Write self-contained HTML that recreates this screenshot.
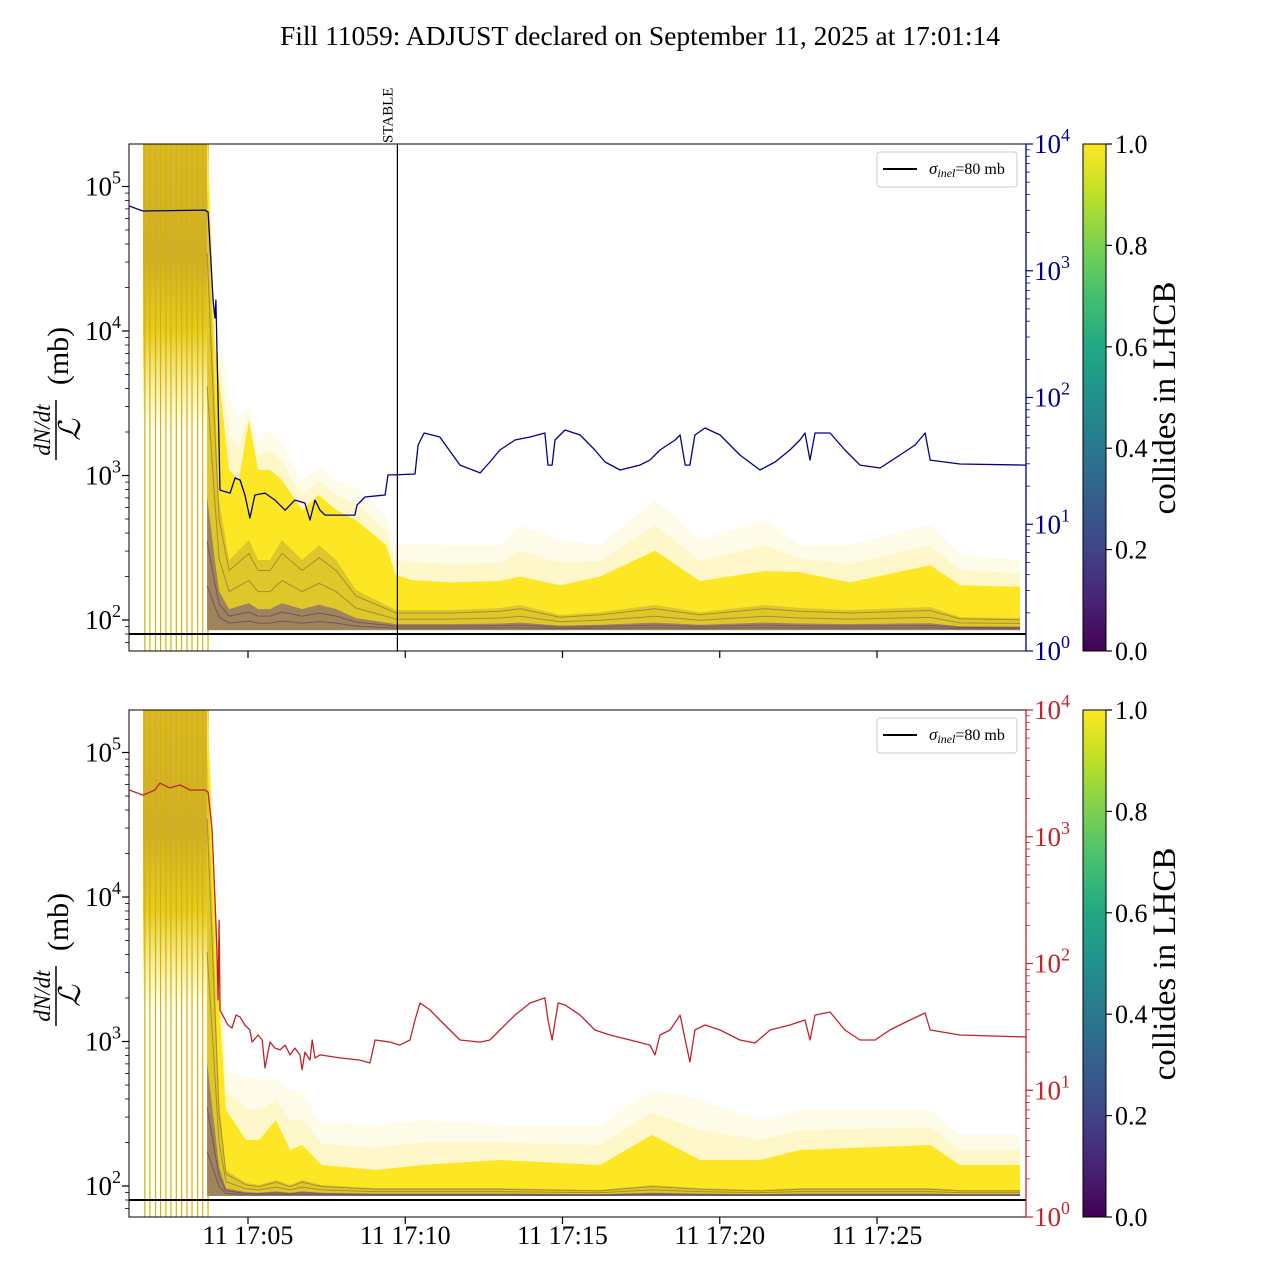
<!DOCTYPE html>
<html><head><meta charset="utf-8">
<style>
html,body{margin:0;padding:0;background:#fff;}
svg{display:block;font-family:"Liberation Serif",serif;}
</style></head>
<body>
<svg id="fig" width="1280" height="1280" viewBox="0 0 1280 1280" xmlns="http://www.w3.org/2000/svg">
<defs>
<linearGradient id="viridis" x1="0" y1="1" x2="0" y2="0">
<stop offset="0" stop-color="#440154"/><stop offset="0.1" stop-color="#482475"/><stop offset="0.2" stop-color="#414487"/><stop offset="0.3" stop-color="#355f8d"/><stop offset="0.4" stop-color="#2a788e"/><stop offset="0.5" stop-color="#21918c"/><stop offset="0.6" stop-color="#22a884"/><stop offset="0.7" stop-color="#44bf70"/><stop offset="0.8" stop-color="#7ad151"/><stop offset="0.9" stop-color="#bddf26"/><stop offset="1" stop-color="#fde725"/>
</linearGradient>
<clipPath id="clipTop"><rect x="129" y="144" width="897" height="507"/></clipPath>
<clipPath id="clipBot"><rect x="129" y="710" width="897" height="507"/></clipPath>
</defs>
<text x="640" y="45" font-size="27.5" text-anchor="middle">Fill 11059: ADJUST declared on September 11, 2025 at 17:01:14</text>
<g id="root"></g>
</svg>
<script>
// ---------- data ----------
// time in minutes after 17:00
const xTickMinutes = [5, 10, 15, 20, 25];
const xTickLabels = ["11 17:05", "11 17:10", "11 17:15", "11 17:20", "11 17:25"];
const leftTickExps = [2, 3, 4, 5];
const rightTickExps = [0, 1, 2, 3, 4];
const cbarTicks = [0.0, 0.2, 0.4, 0.6, 0.8, 1.0];
const sigmaInel = 80;
const stableTime = 9.75;
const earlyStart = 1.66, earlyEnd = 3.70;
const bunchLineTimes = [1.72, 1.88, 2.06, 2.22, 2.39, 2.55, 2.72, 2.89, 3.06, 3.22, 3.40, 3.56, 3.73];

const blueT = [1.22,1.66,3.63,3.73,3.89,3.95,3.98,4.11,4.43,4.59,4.75,4.90,5.06,5.22,5.54,5.86,6.18,6.49,6.81,6.97,7.13,7.29,7.45,8.40,8.47,8.72,9.36,9.45,9.67,10.31,10.41,10.60,11.10,11.74,12.38,12.69,13.01,13.49,13.97,14.44,14.54,14.67,14.76,15.08,15.56,16.03,16.35,16.83,17.46,17.78,18.10,18.58,18.74,18.90,19.05,19.21,19.53,20.01,20.64,21.28,21.76,22.23,22.55,22.71,22.87,23.03,23.51,23.98,24.46,25.10,25.73,26.21,26.53,26.69,27.64,29.74];
const blueV = [3240,2960,3010,2900,588,424,588,18.6,17.6,23.2,22.3,17.0,11.2,17.0,17.6,15.5,12.9,15.5,14.7,10.8,15.5,12.9,11.8,11.8,14.2,16.4,17.0,24.5,24.5,24.9,42.2,52.5,48.8,29.3,25.4,31.0,38.5,46.2,48.8,52.5,29.3,29.3,46.2,55.4,50.6,38.5,31.0,26.8,29.3,32.1,38.5,46.2,50.6,29.3,29.3,50.6,57.5,50.6,35.2,26.8,31.0,38.5,46.2,52.5,32.1,52.5,52.5,38.5,29.3,27.8,35.2,42.2,52.5,32.1,29.9,29.3];

const redT = [1.22,1.66,2.04,2.20,2.51,2.84,3.16,3.63,3.73,3.86,3.95,4.01,4.05,4.08,4.11,4.36,4.49,4.62,4.75,4.90,5.06,5.13,5.32,5.45,5.54,5.70,5.86,6.02,6.18,6.34,6.49,6.65,6.72,6.81,6.97,7.04,7.13,7.29,7.93,8.56,8.88,9.04,9.52,9.83,10.15,10.31,10.47,10.79,11.10,11.74,12.38,12.69,13.01,13.49,13.97,14.44,14.54,14.67,14.86,15.08,15.56,16.03,16.51,17.15,17.78,17.94,18.10,18.42,18.74,18.90,19.05,19.21,19.53,20.01,20.64,21.12,21.60,22.23,22.71,22.87,23.03,23.51,23.98,24.46,24.94,25.41,26.05,26.53,26.69,27.64,29.74];
const redV = [2340,2130,2340,2650,2430,2560,2340,2340,2250,1130,317,128,51.5,220,43.0,32.7,31.0,39.2,37.8,32.7,29.9,24.0,27.3,24.9,15.0,24.0,21.5,20.8,22.7,19.0,21.5,19.0,14.5,20.0,17.3,24.9,18.0,19.0,18.0,17.3,16.4,24.9,24.0,22.7,24.9,35.8,48.8,43.0,35.8,24.9,24.0,24.9,29.9,39.2,48.8,53.5,35.8,24.9,48.8,47.1,39.2,29.9,27.3,24.9,22.7,19.0,27.3,29.9,39.2,24.9,16.7,29.9,32.7,29.9,24.9,23.6,29.9,32.7,35.8,24.9,39.2,41.4,29.9,24.9,24.9,29.9,35.8,40.7,29.9,27.3,26.3];

// bunch envelopes, log10 of dN/dt/L in mb
const topBandT = [3.70,3.95,4.08,4.40,4.71,5.03,5.32,5.70,6.08,6.72,7.26,7.80,8.43,9.39,9.70,10.21,11.42,13.01,13.65,14.92,16.19,17.94,19.37,21.44,22.55,24.14,26.69,27.64,29.55];
const topOuterLog = [5.4,4.007,3.958,3.543,3.405,3.474,3.246,3.315,3.218,2.962,3.066,2.962,2.920,2.713,2.526,2.526,2.519,2.519,2.657,2.554,2.519,2.830,2.554,2.692,2.519,2.519,2.657,2.450,2.415];
const topCoreLog = [5.4,3.903,3.661,3.038,2.969,3.384,3.038,3.038,2.969,2.761,2.865,2.761,2.692,2.519,2.311,2.277,2.260,2.270,2.300,2.240,2.300,2.480,2.270,2.340,2.330,2.260,2.380,2.240,2.230];
const topDarkLog = [5.0,3.522,2.830,2.415,2.484,2.554,2.415,2.415,2.554,2.415,2.519,2.415,2.208,2.104,2.069,2.069,2.069,2.083,2.104,2.035,2.055,2.104,2.055,2.104,2.083,2.069,2.090,2.021,2.014];
const topFloorLog = 1.93;

const botBandT = [3.70,3.95,4.08,4.30,4.94,5.35,5.89,6.34,6.72,7.35,9.07,10.53,13.01,16.19,17.85,19.37,21.28,22.55,26.69,27.64,29.55];
const botOuterLog = [5.4,4.118,3.979,2.803,2.754,2.734,2.734,2.664,2.644,2.436,2.422,2.457,2.422,2.422,2.664,2.595,2.457,2.526,2.526,2.353,2.353];
const botCoreLog = [5.4,3.979,3.287,2.526,2.318,2.318,2.457,2.249,2.284,2.145,2.111,2.145,2.180,2.145,2.353,2.180,2.180,2.249,2.284,2.145,2.145];
const botDarkLog = [5.0,3.426,2.595,2.111,2.021,2.007,2.042,2.007,2.042,2.007,1.986,1.986,1.986,1.972,2.007,1.986,1.972,1.986,1.986,1.972,1.972];
const botFloorLog = 1.931;

// ---------- helpers ----------
const NS = "http://www.w3.org/2000/svg";
const root = document.getElementById("root");
function mk(tag, attrs, parent) {
  const el = document.createElementNS(NS, tag);
  for (const k in attrs) el.setAttribute(k, attrs[k]);
  (parent || root).appendChild(el);
  return el;
}
const X0 = 129, X1 = 1026;
function xS(t) { return 248 + (t - 5) * 31.45; }

function panel(cfg) {
  const top = cfg.top, bot = top + 507;
  const yLv = e => top + 476 + (2 - e) * 144.5;
  const yR = v => bot - Math.log10(v) * 126.75;
  const g = mk("g", {"clip-path": "url(#" + cfg.clip + ")"});
  
  

  // early saturated bunch block
  const gradId = cfg.name + "-early";
  const defs = document.querySelector("defs");
  const lg = mk("linearGradient", {id: gradId, x1: 0, y1: 0, x2: 0, y2: 1}, defs);
  const ySolid = yLv(cfg.earlySolid), yFade = yLv(cfg.earlyFade);
  const f1 = (ySolid - top) / (yFade - top);
  mk("stop", {offset: 0, "stop-color": "#d9b928"}, lg);
  mk("stop", {offset: f1 * 0.6, "stop-color": "#cfae2c"}, lg);
  mk("stop", {offset: f1, "stop-color": "#e6cb20"}, lg);
  mk("stop", {offset: 1, "stop-color": "#f8e650", "stop-opacity": 0}, lg);
  const eb = mk("rect", {x: xS(earlyStart), y: top, width: xS(earlyEnd) - xS(earlyStart), height: yFade - top, fill: "url(#" + gradId + ")"}, g);
  
  
  bunchLineTimes.forEach(t => {
    const l = mk("line", {x1: xS(t), x2: xS(t), y1: top, y2: bot, stroke: "#d6b200", "stroke-width": 1.2}, g);
    
    
  });

  // bands
  const T = cfg.bandT;
  function band(upper, lowerArr, fill, op, name) {
    let d = "M" + xS(T[0]) + "," + yLv(upper[0]);
    for (let i = 1; i < T.length; i++) d += "L" + xS(T[i]).toFixed(1) + "," + yLv(upper[i]).toFixed(1);
    for (let i = T.length - 1; i >= 0; i--) d += "L" + xS(T[i]).toFixed(1) + "," + yLv(lowerArr[i]).toFixed(1);
    const p = mk("path", {d: d + "Z", fill: fill, "fill-opacity": op}, g);
    
    
  }
  const floorArr = T.map(() => cfg.floor);
  band(cfg.outer, floorArr, "#fbe84e", 0.13, "bunch-outer-envelope");
  const midOuter = cfg.outer.map((v, i) => (v + cfg.core[i]) / 2);
  band(midOuter, floorArr, "#fbe84e", 0.2, "bunch-mid-envelope");
  band(cfg.core, floorArr, "#fde725", 1, "bunch-core-band");
  band(cfg.dark, floorArr, "#b8a032", 0.45, "bunch-low-band");
  const mid = cfg.dark.map((v, i) => cfg.floor + (v - cfg.floor) * 0.3);
  band(mid, floorArr, "#6a4a85", 0.55, "bunch-purple-band");
  // texture lines
  [0.1, 0.2, 0.55, 0.85].forEach((f, k) => {
    let d = "";
    T.forEach((t, i) => { const e = cfg.floor + (cfg.dark[i] - cfg.floor) * f; d += (i ? "L" : "M") + xS(t).toFixed(1) + "," + yLv(e).toFixed(1); });
    const p = mk("path", {d: d, fill: "none", stroke: k < 2 ? "#50306a" : "#7a6030", "stroke-width": 1, "stroke-opacity": 0.55}, g);
    
    
  });

  // sigma line
  const ys = yLv(Math.log10(sigmaInel));
  const sl = mk("line", {x1: X0, x2: X1, y1: ys, y2: ys, stroke: "#000", "stroke-width": 2}, g);
  
  

  // right-axis series
  let d = "";
  cfg.lineT.forEach((t, i) => { d += (i ? "L" : "M") + xS(t).toFixed(1) + "," + yR(cfg.lineV[i]).toFixed(1); });
  const ln = mk("path", {d: d, fill: "none", stroke: cfg.color, "stroke-width": 1.3, "stroke-linejoin": "round"}, g);
  
  

  if (cfg.stable) {
    const sx = xS(stableTime);
    const s = mk("line", {x1: sx, x2: sx, y1: top, y2: bot, stroke: "#000", "stroke-width": 1.2});
    
    
    const st = mk("text", {x: 0, y: 0, "font-size": 15, transform: "translate(" + (sx - 5) + "," + (top - 1) + ") rotate(-90)"});
    st.textContent = "STABLE";
    
    
  }

  // frame
  const fr = mk("rect", {x: X0, y: top, width: X1 - X0, height: 507, fill: "none", stroke: "#000", "stroke-width": 1});
  
  
  const rs = mk("line", {x1: X1, x2: X1, y1: top, y2: bot, stroke: cfg.color, "stroke-width": 1.3});
  
  

  // left ticks
  for (let e = 1; e <= 5; e++) {
    for (let m = 1; m <= 9; m++) {
      const y = yLv(e + Math.log10(m));
      if (y < top - 0.5 || y > bot + 0.5) continue;
      const len = m === 1 ? 7 : 4;
      mk("line", {x1: X0 - len, x2: X0, y1: y, y2: y, stroke: "#000", "stroke-width": m === 1 ? 1.2 : 0.8});
    }
  }
  leftTickExps.forEach(e => {
    const y = yLv(e);
    const t = mk("text", {x: 121, y: y + 9, "font-size": 27, "text-anchor": "end"});
    
    
    const a = mk("tspan", {}, t); a.textContent = "10";
    const b = mk("tspan", {"font-size": 18, dy: -12}, t); b.textContent = String(e);
  });
  // right ticks
  for (let e = 0; e <= 4; e++) {
    for (let m = 1; m <= 9; m++) {
      if (e === 4 && m > 1) continue;
      const y = yR(m * Math.pow(10, e));
      const len = m === 1 ? 7 : 4;
      mk("line", {x1: X1, x2: X1 + len, y1: y, y2: y, stroke: cfg.color, "stroke-width": m === 1 ? 1.2 : 0.8});
    }
  }
  rightTickExps.forEach(e => {
    const y = yR(Math.pow(10, e));
    const t = mk("text", {x: 1034, y: y + 9, "font-size": 27, fill: cfg.color});
    
    
    const a = mk("tspan", {}, t); a.textContent = "10";
    const b = mk("tspan", {"font-size": 18, dy: -12}, t); b.textContent = String(e);
  });
  // x ticks
  xTickMinutes.forEach((m, i) => {
    const x = xS(m);
    mk("line", {x1: x, x2: x, y1: bot, y2: bot + 7, stroke: "#000", "stroke-width": 1.2});
    if (cfg.xLabels) {
      const t = mk("text", {x: x, y: bot + 27, "font-size": 26, "text-anchor": "middle"});
      t.textContent = xTickLabels[i];
      
      
    }
  });

  // y label
  const cy = top + 254;
  const yl = mk("g", {transform: "translate(50," + cy + ") rotate(-90)"});
  
  
  const num = mk("text", {x: -32, y: 0, "font-size": 23, "font-style": "italic", "text-anchor": "middle"}, yl); num.textContent = "dN/dt";
  mk("line", {x1: -62, x2: -2, y1: 6, y2: 6, stroke: "#000", "stroke-width": 1.5}, yl);
  const den = mk("text", {x: -32, y: 30, "font-size": 30, "font-style": "italic", "text-anchor": "middle"}, yl); den.textContent = "ℒ";
  const mb = mk("text", {x: 42, y: 18, "font-size": 30, "text-anchor": "middle"}, yl); mb.textContent = "(mb)";

  // legend
  const lgG = mk("g", {});
  
  
  mk("rect", {x: 877, y: top + 8, width: 140, height: 35, rx: 3, fill: "#fff", "fill-opacity": 0.85, stroke: "#ccc", "stroke-width": 1}, lgG);
  mk("line", {x1: 883, x2: 917, y1: top + 25, y2: top + 25, stroke: "#000", "stroke-width": 2}, lgG);
  const lt = mk("text", {x: 929, y: top + 30, "font-size": 16}, lgG);
  const s1 = mk("tspan", {"font-style": "italic", "font-size": 17}, lt); s1.textContent = "σ";
  const s2 = mk("tspan", {"font-style": "italic", "font-size": 12, dy: 3}, lt); s2.textContent = "inel";
  const s3 = mk("tspan", {dy: -3}, lt); s3.textContent = "=80 mb";

  // colorbar
  const cb = mk("rect", {x: 1083, y: top, width: 23, height: 507, fill: "url(#viridis)", stroke: "#000", "stroke-width": 1});
  
  
  cbarTicks.forEach(v => {
    const y = bot - v * 507;
    mk("line", {x1: 1106, x2: 1112, y1: y, y2: y, stroke: "#000", "stroke-width": 1.2});
    const t = mk("text", {x: 1115, y: y + 9, "font-size": 26});
    t.textContent = v.toFixed(1);
    
    
  });
  const ct = mk("text", {x: 0, y: 0, "font-size": 33, "text-anchor": "middle", transform: "translate(1175," + cy + ") rotate(-90)"});
  ct.textContent = "collides in LHCB";
  
  
}

panel({name: "top", top: 144, clip: "clipTop", color: "#00008b", lineT: blueT, lineV: blueV,
  bandT: topBandT, outer: topOuterLog, core: topCoreLog, dark: topDarkLog, floor: topFloorLog,
  earlySolid: 4.0, earlyFade: 3.3, stable: true, xLabels: false});
panel({name: "bottom", top: 710, clip: "clipBot", color: "#c0232a", lineT: redT, lineV: redV,
  bandT: botBandT, outer: botOuterLog, core: botCoreLog, dark: botDarkLog, floor: botFloorLog,
  earlySolid: 3.9, earlyFade: 3.2, stable: false, xLabels: true});
</script>
</body></html>
